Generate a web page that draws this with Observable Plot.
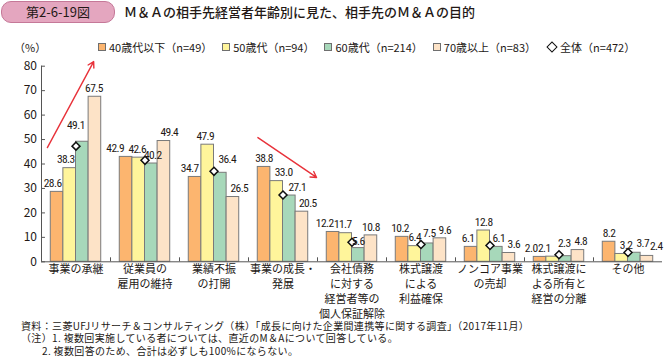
<!DOCTYPE html>
<html><head><meta charset="utf-8">
<script src="https://cdn.jsdelivr.net/npm/d3@7"></script>
<script src="https://cdn.jsdelivr.net/npm/@observablehq/plot@0.6"></script>
<style>
body{margin:0;width:666px;height:357px;position:relative;overflow:hidden;background:#fff;font-family:"Noto Sans CJK JP",sans-serif;color:#231815}
#badge{position:absolute;left:1px;top:1px;width:112px;height:20px;border:1px solid #c57898;border-radius:10px;background:#e4a6bf;font-size:13px;line-height:20px;text-align:center;color:#231815}
#title{position:absolute;left:124px;top:2px;font-size:13px;line-height:19px;color:#231815;font-weight:500}
#unit{position:absolute;left:14px;top:39px;font-size:11px;line-height:16px}
#legend{position:absolute;left:98px;top:39px;font-size:11px;line-height:16px;display:flex;gap:10px;white-space:nowrap}
#legend span.sw{display:inline-block;width:6px;height:6px;border:1px solid #6f6f6f;margin-right:3px;vertical-align:1px}
#legend span.dm{display:inline-block;width:6px;height:6px;border:1.5px solid #111;transform:rotate(45deg);margin:0 4px 0 2px;vertical-align:1px;background:#fff}
#chart{position:absolute;left:0;top:56px}
#notes{position:absolute;left:21px;top:320px;font-size:10px;white-space:nowrap;letter-spacing:0.35px}
#notes div{height:12.3px;line-height:12.3px;overflow:visible}
.vals text{letter-spacing:-0.6px}
</style></head>
<body>
<div id="badge">第2-6-19図</div>
<div id="title">Ｍ＆Ａの相手先経営者年齢別に見た、相手先のＭ＆Ａの目的</div>
<div id="unit">（%）</div>
<div id="legend"></div>
<div id="chart"></div>
<div id="notes"><div>資料：三菱UFJリサーチ＆コンサルティング（株）「成長に向けた企業間連携等に関する調査」（2017年11月）</div><div>（注）1. 複数回実施している者については、直近のM＆Aについて回答している。</div><div style="padding-left:21px">2. 複数回答のため、合計は必ずしも100%にならない。</div></div>
<script>
// ---- data ----
const categories = ["事業の承継","従業員の雇用の維持","業績不振の打開","事業の成長・発展","会社債務に対する経営者等の個人保証解除","株式譲渡による利益確保","ノンコア事業の売却","株式譲渡による所有と経営の分離","その他"];
const categoryTickLabels = ["事業の承継","従業員の\n雇用の維持","業績不振\nの打開","事業の成長・\n発展","会社債務\nに対する\n経営者等の\n個人保証解除","株式譲渡\nによる\n利益確保","ノンコア事業\nの売却","株式譲渡に\nよる所有と\n経営の分離","その他"];
const ageGroups = ["40歳代以下","50歳代","60歳代","70歳以上"];
const ageLegend = ["40歳代以下（n=49）","50歳代（n=94）","60歳代（n=214）","70歳以上（n=83）"];
const totalLegend = "全体（n=472）";
const values40s = [28.6, 42.9, 34.7, 38.8, 12.2, 10.2, 6.1, 2.0, 8.2];
const values50s = [38.3, 42.6, 47.9, 33.0, 11.7, 6.4, 12.8, 2.1, 3.2];
const values60s = [49.1, 40.2, 36.4, 27.1, 5.6, 7.5, 6.1, 2.3, 3.7];
const values70s = [67.5, 49.4, 26.5, 20.5, 10.8, 9.6, 3.6, 4.8, 2.4];
const valuesTotal = [47.3, 41.5, 37.0, 27.3, 8.0, 7.1, 6.7, 2.9, 3.8];
const yTicks = [0,10,20,30,40,50,60,70,80];
// trend arrows (annotation): category, start/end in age-slot units and %
const trendArrows = [
  {category: "事業の承継", from: -0.77, to: 2.9, fromValue: 46.7, toValue: 81.9},
  {category: "事業の成長・発展", from: -0.49, to: 4.16, fromValue: 50.8, toValue: 34.5}
];

// ---- style ----
const colors = ["#fcb56f","#fff59b","#a7d8ba","#fde3c7"];
// label nudges in px (style only)
const labelDx = [
  [-4.5,-11,-5.5,0,-8.5,-2,-3,-9,0],
  [-4,-1.5,-2.5,7,-3,0,0,-8.5,4.5],
  [-6.5,1.5,7,8,0,2,2.5,-1,8.5],
  [-1,5.5,6.5,6,0,5,5,3,9.5]
];
const labelDy = [
  [0,0,0,0,0,0,0,0,0],
  [0,0,0,0,0,0,0,0,0],
  [-7.5,0,-4.5,0,1.5,-2,0,-4.5,-1],
  [0,0,0,0,0,0,0,0,-1]
];
const seriesValues = [values40s, values50s, values60s, values70s];

const W = 666, H = 262, mL = 38, mR = 0.5, mT = 9.7, innerH = 195.6, mB = H - mT - innerH;
const pad = 0.735;
const xDomain = [-0.5 - pad, 3.5 + pad];
const facetW = (W - mL - mR) / categories.length;
const unitPx = facetW / (xDomain[1] - xDomain[0]);
const yUnitPx = innerH / 80;

const rows = [];
seriesValues.forEach((vals, ai) => vals.forEach((v, ci) => rows.push({
  category: categories[ci], age: ageGroups[ai], ai, ci, value: v
})));
const totals = valuesTotal.map((v, ci) => ({category: categories[ci], value: v}));

// legend
const lg = document.getElementById("legend");
ageLegend.forEach((t, i) => {
  const s = document.createElement("span");
  s.innerHTML = `<span class="sw" style="background:${colors[i]}"></span>${t}`;
  lg.appendChild(s);
});
const tl = document.createElement("span");
tl.innerHTML = `<span class="dm"></span>${totalLegend}`;
lg.appendChild(tl);

const numFont = "'Liberation Sans Narrow','Roboto Condensed','DejaVu Sans Condensed',Roboto,sans-serif";

const chart = Plot.plot({
  width: W, height: H,
  marginLeft: mL, marginRight: mR, marginTop: mT, marginBottom: mB,
  style: {fontFamily: "'Noto Sans CJK JP',sans-serif", fontSize: "12px", color: "#231815", background: "transparent", overflow: "visible"},
  fx: {domain: categories, padding: 0, axis: null, label: null},
  x: {domain: xDomain, axis: null},
  y: {domain: [0, 80], ticks: yTicks.length - 1, tickSize: 0, tickPadding: 4.5, label: null, tickFormat: d3.format("d")},
  color: {domain: ageGroups, range: colors},
  marks: [
    Plot.rectY(rows, {fx: "category", x1: d => d.ai - 0.5, x2: d => d.ai + 0.5, y1: 0, y2: "value", fill: "age", stroke: "#7a7a7a", strokeWidth: 1}),
    Plot.ruleY([0], {stroke: "#555", strokeWidth: 1}),
    Plot.ruleX(categories.slice(0, -1), {fx: d => d, x: () => xDomain[1], y1: 0, y2: 4 / yUnitPx, stroke: "#555"}),
    Plot.ruleX([categories[0]], {fx: d => d, x: () => xDomain[0], y1: 0, y2: 80, stroke: "#555"}),
    Plot.ruleY(yTicks.map(v => ({category: categories[0], v})), {fx: "category", y: "v", x1: () => xDomain[0], x2: () => xDomain[0] + 4 / unitPx, stroke: "#555"}),
    Plot.dot(totals, {fx: "category", x: () => 1.5, y: "value", symbol: "diamond2", r: 3.6, fill: "white", stroke: "#111", strokeWidth: 1.5}),
    Plot.text(rows, {
      fx: "category",
      x: d => d.ai + labelDx[d.ai][d.ci] / unitPx,
      y: d => d.value + (-labelDy[d.ai][d.ci]) / yUnitPx,
      text: d => d.value.toFixed(1),
      dy: -8.5, fontSize: 11.5, fill: "#231815", fontFamily: numFont, className: "vals"
    }),
    Plot.text(categories, {fx: d => d, text: (d, i) => categoryTickLabels[categories.indexOf(d)], frameAnchor: "bottom", lineAnchor: "top", dy: 1, lineHeight: 1.36, fontSize: 11, fill: "#231815"}),
    Plot.arrow(trendArrows, {fx: "category", x1: "from", x2: "to", y1: "fromValue", y2: "toValue", stroke: "#e8323a", strokeWidth: 1.4, headLength: 7})
  ]
});
document.getElementById("chart").appendChild(chart);
</script>
</body></html>
